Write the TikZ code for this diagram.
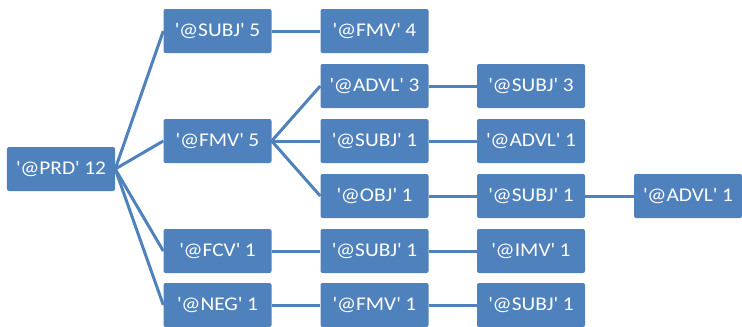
\documentclass[tikz,border=0pt]{standalone}
\usepackage{fontspec}
\setmainfont[FakeStretch=1.1]{Carlito}
\definecolor{boxblue}{HTML}{4F81BD}
\newcommand{\q}{\textquotesingle}
\tikzset{
  tag/.style={fill=boxblue, rounded corners=2bp, text=white, minimum width=108bp,
    minimum height=44bp, inner sep=0pt, font=\fontsize{19.5}{19.5}\selectfont},
  link/.style={boxblue, line width=3bp}
}
\begin{document}
\begin{tikzpicture}[x=1bp, y=-1bp]
    \useasboundingbox (0, 0) rectangle (742, 326);
    \node[tag] (prd) at (61, 169) {\q@PRD\q{} 12};

    \node[tag] (subjFive) at (217.5, 31) {\q@SUBJ\q{} 5};
    \node[tag] (fmvFive) at (217.5, 141) {\q@FMV\q{} 5};
    \node[tag] (fcvOne) at (217.5, 251) {\q@FCV\q{} 1};
    \node[tag] (negOne) at (217.5, 305) {\q@NEG\q{} 1};

    \node[tag] (fmvFour) at (374.5, 31) {\q@FMV\q{} 4};
    \node[tag] (advlThree) at (374.5, 86) {\q@ADVL\q{} 3};
    \node[tag] (subjOneA) at (374.5, 141) {\q@SUBJ\q{} 1};
    \node[tag] (objOne) at (374.5, 196) {\q@OBJ\q{} 1};
    \node[tag] (subjOneB) at (374.5, 251) {\q@SUBJ\q{} 1};
    \node[tag] (fmvOne) at (374.5, 305) {\q@FMV\q{} 1};

    \node[tag] (subjThree) at (531, 86) {\q@SUBJ\q{} 3};
    \node[tag] (advlOneA) at (531, 141) {\q@ADVL\q{} 1};
    \node[tag] (subjOneC) at (531, 196) {\q@SUBJ\q{} 1};
    \node[tag] (imvOne) at (531, 251) {\q@IMV\q{} 1};
    \node[tag] (subjOneD) at (531, 305) {\q@SUBJ\q{} 1};

    \node[tag] (advlOneB) at (688, 196) {\q@ADVL\q{} 1};

    \draw[link] (prd.east) -- (subjFive.west);
    \draw[link] (prd.east) -- (fmvFive.west);
    \draw[link] (prd.east) -- (fcvOne.west);
    \draw[link] (prd.east) -- (negOne.west);

    \draw[link] (subjFive.east) -- (fmvFour.west);
    \draw[link] (fmvFive.east) -- (advlThree.west);
    \draw[link] (fmvFive.east) -- (subjOneA.west);
    \draw[link] (fmvFive.east) -- (objOne.west);
    \draw[link] (fcvOne.east) -- (subjOneB.west);
    \draw[link] (negOne.east) -- (fmvOne.west);

    \draw[link] (advlThree.east) -- (subjThree.west);
    \draw[link] (subjOneA.east) -- (advlOneA.west);
    \draw[link] (objOne.east) -- (subjOneC.west);
    \draw[link] (subjOneB.east) -- (imvOne.west);
    \draw[link] (fmvOne.east) -- (subjOneD.west);

    \draw[link] (subjOneC.east) -- (advlOneB.west);
  \end{tikzpicture}
\end{document}
